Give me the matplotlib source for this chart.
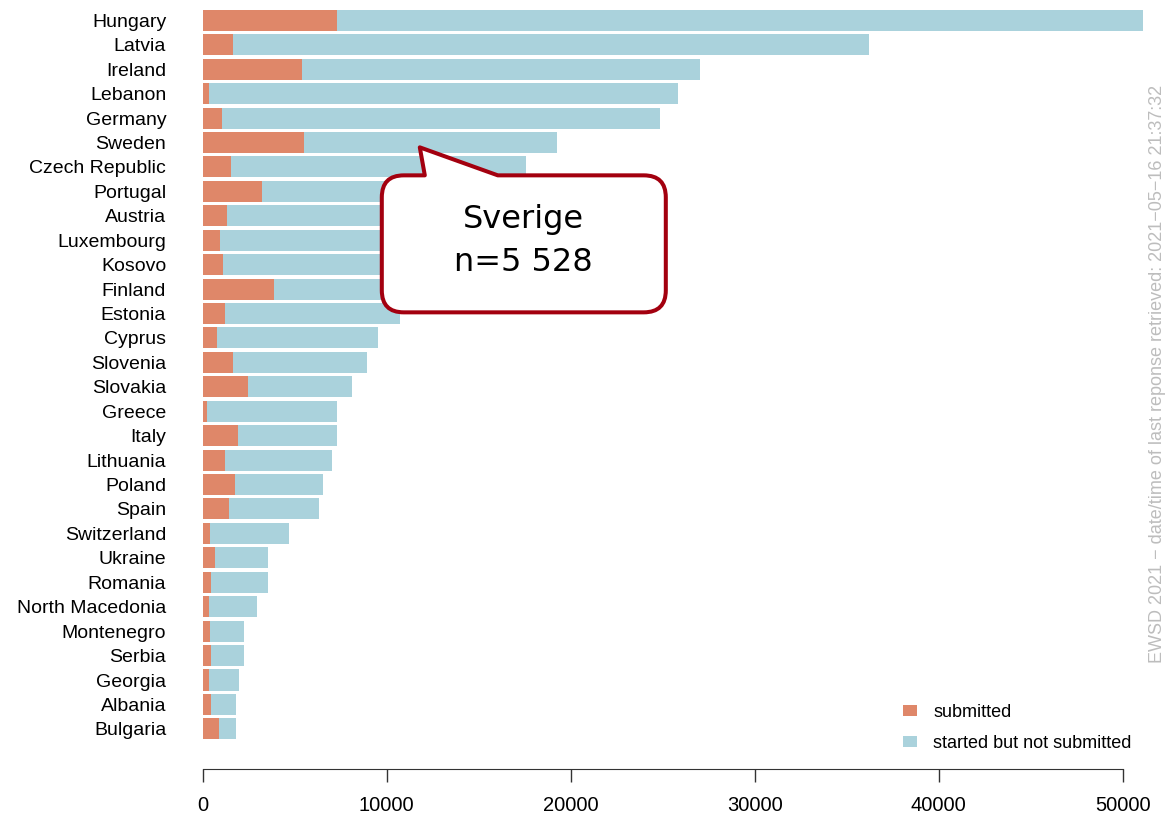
import numpy as np
import matplotlib
matplotlib.use("Agg")
import matplotlib.pyplot as plt
from matplotlib.patches import Patch, PathPatch
from matplotlib.path import Path
from matplotlib.transforms import IdentityTransform

plt.rcParams["font.family"] = ["Liberation Sans", "DejaVu Sans"]

# countries, sorted by total responses (top to bottom)
countries = [
    "Hungary", "Latvia", "Ireland", "Lebanon", "Germany", "Sweden",
    "Czech Republic", "Portugal", "Austria", "Luxembourg", "Kosovo",
    "Finland", "Estonia", "Cyprus", "Slovenia", "Slovakia", "Greece",
    "Italy", "Lithuania", "Poland", "Spain", "Switzerland", "Ukraine",
    "Romania", "North Macedonia", "Montenegro", "Serbia", "Georgia",
    "Albania", "Bulgaria",
]
submitted = [
    7300, 1630, 5380, 330, 1030, 5528,
    1540, 3240, 1320, 960, 1120,
    3890, 1200, 760, 1630, 2460, 250,
    1900, 1200, 1760, 1410, 400, 690,
    470, 330, 400, 470, 330,
    470, 900,
]
not_submitted = [
    43800, 34580, 21650, 25500, 23820, 13740,
    16010, 12560, 12880, 11940, 10880,
    7410, 9520, 8750, 7320, 5640, 7050,
    5400, 5830, 4760, 4890, 4270, 2840,
    3060, 2620, 1850, 1780, 1630,
    1340, 910,
]
x_ticks = [0, 10000, 20000, 30000, 40000, 50000]

c_sub = "#DF8769"
c_not = "#AAD2DC"

W, H = 1168, 818
fig = plt.figure(figsize=(W / 100, H / 100), dpi=100)
ax = fig.add_axes([189.8 / W, (H - 745) / H, 969.7 / W, 740 / H])

y = np.arange(len(countries))
ax.barh(y, submitted, height=0.86, color=c_sub, edgecolor="none")
ax.barh(y, not_submitted, left=submitted, height=0.86, color=c_not, edgecolor="none")

for s in ["top", "right", "left"]:
    ax.spines[s].set_visible(False)
ax.spines["bottom"].set_position(("outward", 17.3))
ax.spines["bottom"].set_bounds(0, 50000)
ax.spines["bottom"].set_color("#333333")

ax.set_xlim(-700, 52000)
ax.set_ylim(29.66, -0.626)

ax.set_yticks(y)
ax.set_yticklabels(countries)
ax.tick_params(axis="y", length=0, pad=17, labelsize=14)

ax.set_xticks(x_ticks)
ax.set_xticklabels([str(t) for t in x_ticks])
ax.tick_params(axis="x", length=9.4, width=1, color="#333333", pad=10, labelsize=14.5)

# legend
handles = [Patch(facecolor=c_sub, edgecolor="none"), Patch(facecolor=c_not, edgecolor="none")]
fig.legend(handles, ["submitted", "started but not submitted"], loc="center left",
           bbox_to_anchor=(903 / W, (H - 728) / H), frameon=False, fontsize=13,
           handlelength=0.78, handleheight=0.55, handletextpad=0.89,
           labelspacing=0.75, borderpad=0, borderaxespad=0)

# vertical note on the right
fig.text(1157 / W, (H - 374) / H,
         "EWSD 2021 \u2212 date/time of last reponse retrieved: 2021\u221205\u221216 21:37:32",
         rotation=90, ha="center", va="center", fontsize=13, color="#BDBDBD")

# speech bubble pointing at Sweden
tx, ty = ax.transData.transform((11800, 5.2))
r = 22
L, R, T, B = -38, 246, 28, 165
pts = [
    (0, 0), (78, T), (R - r, T), (R, T), (R, T + r), (R, B - r), (R, B), (R - r, B),
    (L + r, B), (L, B), (L, B - r), (L, T + r), (L, T), (L + r, T), (5, T), (0, 0),
]
codes = [
    Path.MOVETO, Path.LINETO, Path.LINETO, Path.CURVE3, Path.CURVE3, Path.LINETO,
    Path.CURVE3, Path.CURVE3, Path.LINETO, Path.CURVE3, Path.CURVE3, Path.LINETO,
    Path.CURVE3, Path.CURVE3, Path.LINETO, Path.CLOSEPOLY,
]
verts = [(tx + dx, ty - dy) for dx, dy in pts]
bubble = PathPatch(Path(verts, codes), facecolor="white", edgecolor="#A3000F",
                   linewidth=2.9, joinstyle="round", transform=IdentityTransform())
fig.add_artist(bubble)
fig.text(tx + 104, ty - 72, "Sverige", transform=IdentityTransform(),
         ha="center", va="center", fontsize=23, family="DejaVu Sans")
fig.text(tx + 104, ty - 115, "n=5 528", transform=IdentityTransform(),
         ha="center", va="center", fontsize=23, family="DejaVu Sans")

fig.savefig("out.png", dpi=100)
